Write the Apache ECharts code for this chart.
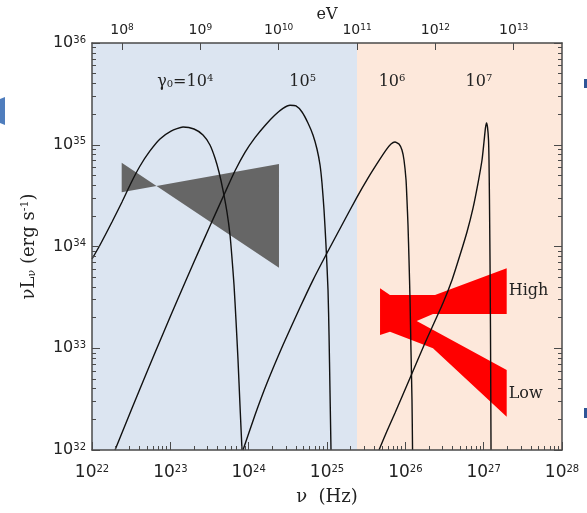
<!DOCTYPE html>
<html>
<head>
<meta charset="utf-8">
<script src="https://cdn.jsdelivr.net/npm/echarts@6/dist/echarts.min.js"></script>
<style>
html, body { margin: 0; padding: 0; background: #fff; }
#chart { width: 587px; height: 513px; }
</style>
</head>
<body>
<div id="chart"></div>
<script>
"use strict";

// every value is a log10: nu in Hz, nuLnu in erg/s
var NU_TICKS = [22, 23, 24, 25, 26, 27, 28];
var LUM_TICKS = [32, 33, 34, 35, 36];
var EV_TICKS = [8, 9, 10, 11, 12, 13];
var LOG_HZ_PER_EV = 14.3834; // log10(2.418e14)

// shaded regions: 1e22 Hz .. 1e11 eV .. 1e28 Hz
var bandEdges = [22, 25.383, 28];
var bandColors = ['#dce5f1', '#fde8db'];

// spectra for gamma0 = 1e4 .. 1e7
var curveG4 = [[22.000,33.877],[22.102,34.015],[22.255,34.241],[22.383,34.437],[22.498,34.624],[22.613,34.791],[22.740,34.939],[22.868,35.057],[23.009,35.135],[23.162,35.174],[23.302,35.155],[23.417,35.096],[23.506,34.998],[23.570,34.870],[23.621,34.732],[23.672,34.555],[23.723,34.339],[23.762,34.113],[23.787,33.887],[23.813,33.622],[23.838,33.278],[23.864,32.884],[23.889,32.442],[23.915,32.000]];
var curveG5 = [[22.294,32.000],[22.500,32.391],[22.700,32.764],[22.900,33.131],[23.100,33.491],[23.300,33.845],[23.500,34.192],[23.700,34.533],[23.826,34.744],[23.953,34.925],[24.081,35.070],[24.209,35.190],[24.336,35.292],[24.438,35.357],[24.528,35.388],[24.604,35.381],[24.681,35.322],[24.757,35.214],[24.821,35.096],[24.872,34.958],[24.911,34.801],[24.936,34.624],[24.962,34.359],[24.987,34.015],[25.013,33.572],[25.026,33.130],[25.038,32.590],[25.051,32.000]];
var curveG6 = [[23.928,32.000],[24.081,32.344],[24.234,32.658],[24.438,33.032],[24.655,33.400],[24.821,33.670],[25.000,33.936],[25.191,34.211],[25.383,34.486],[25.523,34.673],[25.651,34.830],[25.753,34.948],[25.817,35.007],[25.868,35.027],[25.919,35.007],[25.957,34.948],[25.983,34.850],[26.009,34.654],[26.021,34.457],[26.034,34.211],[26.047,33.867],[26.060,33.474],[26.072,32.983],[26.085,32.491],[26.092,32.000]];
var curveG7 = [[25.664,32.000],[25.766,32.187],[25.868,32.364],[26.060,32.708],[26.251,33.052],[26.481,33.445],[26.596,33.671],[26.698,33.916],[26.787,34.143],[26.864,34.378],[26.928,34.624],[26.979,34.850],[27.004,35.027],[27.023,35.165],[27.036,35.214],[27.049,35.174],[27.062,35.047],[27.068,34.850],[27.074,34.457],[27.081,33.867],[27.087,33.179],[27.094,32.000]];

// measured butterflies
var grayButterfly = [[22.379,34.824],[24.387,33.792],[24.387,34.811],[22.379,34.533]];
var redButterflies = [[25.677,33.589],[25.804,33.523],[26.379,33.523],[27.294,33.786],[27.294,33.337],[26.353,33.337],[26.145,33.268],[27.294,32.786],[27.294,32.327],[26.353,33.0],[25.804,33.163],[25.677,33.130]];

// text placed in the plot
var peakExp = [4, 5, 6, 7];
var peakLabelNu = [23.19, 24.69, 25.83, 26.94];
var peakLabelLum = [35.62, 35.62, 35.62, 35.62];
var stateNames = ['High', 'Low'];
var stateLabelNu = [27.32, 27.32];
var stateLabelLum = [33.563, 32.55];

function minorTicks(from, to) {
	var out = [];
	for (var n = from; n < to; n++) {
		for (var k = 2; k <= 9; k++) {
			out.push(n + Math.log10(k));
		}
	}
	return out;
}

var AXIS_COLOR = '#4a4a4a';
var SERIF = 'DejaVu Serif';
var SANS = 'DejaVu Sans';

function powRich(size, supSize) {
	return {
		b: { fontFamily: SANS, fontSize: size, color: '#222', verticalAlign: 'bottom' },
		s: { fontFamily: SANS, fontSize: supSize, color: '#222', verticalAlign: 'top' }
	};
}
function powLabel(v) {
	return '{b|10}{s|' + Math.round(v) + '}';
}

function ticks(values, len) {
	return { show: true, inside: true, length: len, customValues: values, lineStyle: { color: AXIS_COLOR, width: 1 } };
}

function majorAxis(extra) {
	var a = {
		type: 'value', z: 10,
		splitLine: { show: false },
		axisLine: { show: true, onZero: false, lineStyle: { color: AXIS_COLOR, width: 1.5 } },
		axisLabel: { show: false }
	};
	for (var key in extra) a[key] = extra[key];
	return a;
}
function minorAxis(extra) {
	var a = {
		type: 'value', z: 10,
		splitLine: { show: false },
		axisLine: { show: false, onZero: false },
		axisLabel: { show: false }
	};
	for (var key in extra) a[key] = extra[key];
	return a;
}

var nuMin = NU_TICKS[0], nuMax = NU_TICKS[NU_TICKS.length - 1];
var lumMin = LUM_TICKS[0], lumMax = LUM_TICKS[LUM_TICKS.length - 1];

var chart = echarts.init(document.getElementById('chart'), null, { renderer: 'canvas' });

function curveSeries(data) {
	return {
		type: 'line', xAxisIndex: 0, yAxisIndex: 0, z: 5,
		data: data, showSymbol: false, smooth: 0.2, silent: true,
		lineStyle: { color: '#111', width: 1.4 }
	};
}

function polygonSeries(points, color) {
	return {
		type: 'custom', xAxisIndex: 0, yAxisIndex: 0, z: 3, silent: true,
		data: [points[0]],
		renderItem: function(params, api) {
			return {
				type: 'polygon',
				shape: { points: points.map(function(p) { return api.coord(p); }) },
				style: { fill: color }
			};
		}
	};
}

chart.setOption({
	animation: false,
	textStyle: { fontFamily: SANS },
	grid: { left: 92, right: 25, top: 43, bottom: 63, outerBoundsMode: 'none' },
	xAxis: [
		majorAxis({
			position: 'bottom', min: nuMin, max: nuMax,
			axisTick: ticks(NU_TICKS, 8),
			axisLabel: { show: true, customValues: NU_TICKS, margin: 14, formatter: powLabel, rich: powRich(17, 10) },
			name: 'ν  (Hz)', nameLocation: 'middle', nameGap: 38, nameMoveOverlap: false,
			nameTextStyle: { fontFamily: SERIF, fontSize: 18, color: '#222' }
		}),
		majorAxis({
			position: 'top', min: nuMin - LOG_HZ_PER_EV, max: nuMax - LOG_HZ_PER_EV,
			axisTick: ticks(EV_TICKS, 7),
			axisLabel: { show: true, customValues: EV_TICKS, margin: 6, formatter: powLabel, rich: powRich(14, 9) },
			name: 'eV', nameLocation: 'middle', nameGap: 20, nameMoveOverlap: false,
			nameTextStyle: { fontFamily: SERIF, fontSize: 16, color: '#222' }
		}),
		minorAxis({ position: 'bottom', min: nuMin, max: nuMax, axisTick: ticks(minorTicks(nuMin, nuMax), 4) })
	],
	yAxis: [
		majorAxis({
			position: 'left', min: lumMin, max: lumMax,
			axisTick: ticks(LUM_TICKS, 8),
			axisLabel: { show: true, customValues: LUM_TICKS, margin: 6, formatter: powLabel, rich: powRich(16, 10) },
			name: '{g|νL}{sub|ν} (erg s{sup|-1})', nameLocation: 'middle', nameRotate: 90, nameGap: 54, nameMoveOverlap: false,
			nameTextStyle: {
				fontFamily: SERIF, fontSize: 18, color: '#222',
				rich: {
					g: { fontFamily: SERIF, fontSize: 18, color: '#222' },
					sub: { fontFamily: SERIF, fontSize: 11, color: '#222', verticalAlign: 'bottom' },
					sup: { fontFamily: SERIF, fontSize: 11, color: '#222', verticalAlign: 'top' }
				}
			}
		}),
		minorAxis({ position: 'left', min: lumMin, max: lumMax, axisTick: ticks(minorTicks(lumMin, lumMax), 4) }),
		majorAxis({ position: 'right', min: lumMin, max: lumMax, axisTick: ticks(LUM_TICKS, 8) }),
		minorAxis({ position: 'right', min: lumMin, max: lumMax, axisTick: ticks(minorTicks(lumMin, lumMax), 4) })
	],
	graphic: [
		{ type: 'polygon', shape: { points: [[0, 99], [5, 97], [5, 125], [0, 123]] }, style: { fill: '#4f7dbd' } },
		{ type: 'rect', shape: { x: 584, y: 79, width: 4, height: 9 }, style: { fill: '#2f5597' } },
		{ type: 'rect', shape: { x: 584, y: 408, width: 4, height: 10 }, style: { fill: '#2f5597' } }
	],
	series: [
		{
			type: 'custom', xAxisIndex: 0, yAxisIndex: 0, z: 1, silent: true,
			data: bandEdges.slice(0, -1).map(function(s, i) { return [s, bandEdges[i + 1]]; }),
			encode: { x: [0, 1] },
			renderItem: function(params, api) {
				var p0 = api.coord([api.value(0), lumMax]);
				var p1 = api.coord([api.value(1), lumMin]);
				return {
					type: 'rect',
					shape: { x: p0[0], y: p0[1], width: p1[0] - p0[0], height: p1[1] - p0[1] },
					style: { fill: bandColors[params.dataIndex] }
				};
			}
		},
		polygonSeries(grayButterfly, '#666666'),
		polygonSeries(redButterflies, '#ff0000'),
		curveSeries(curveG4),
		curveSeries(curveG5),
		curveSeries(curveG6),
		curveSeries(curveG7),
		{
			type: 'custom', xAxisIndex: 0, yAxisIndex: 0, z: 6, silent: true,
			data: peakExp.map(function(e, i) { return [peakLabelNu[i], peakLabelLum[i], e]; }),
			renderItem: function(params, api) {
				var p = api.coord([api.value(0), api.value(1)]);
				var e = api.value(2);
				var txt = (params.dataIndex === 0 ? '{t|γ}{sub|0}{t|=10}' : '{t|10}') + '{sup|' + e + '}';
				return {
					type: 'text', x: p[0], y: p[1],
					style: {
						text: txt, align: 'center', verticalAlign: 'middle',
						rich: {
							t: { fontFamily: SERIF, fontSize: 16, fill: '#222', verticalAlign: 'bottom' },
							sub: { fontFamily: SERIF, fontSize: 10, fill: '#222', verticalAlign: 'bottom' },
							sup: { fontFamily: SERIF, fontSize: 10, fill: '#222', verticalAlign: 'top' }
						}
					}
				};
			}
		},
		{
			type: 'custom', xAxisIndex: 0, yAxisIndex: 0, z: 6, silent: true,
			data: stateNames.map(function(n, i) { return [stateLabelNu[i], stateLabelLum[i]]; }),
			renderItem: function(params, api) {
				var p = api.coord([api.value(0), api.value(1)]);
				return {
					type: 'text', x: p[0], y: p[1],
					style: { text: stateNames[params.dataIndex], align: 'left', verticalAlign: 'middle', fontFamily: SERIF, fontSize: 16, fill: '#222' }
				};
			}
		}
	]
});
</script>
</body>
</html>
